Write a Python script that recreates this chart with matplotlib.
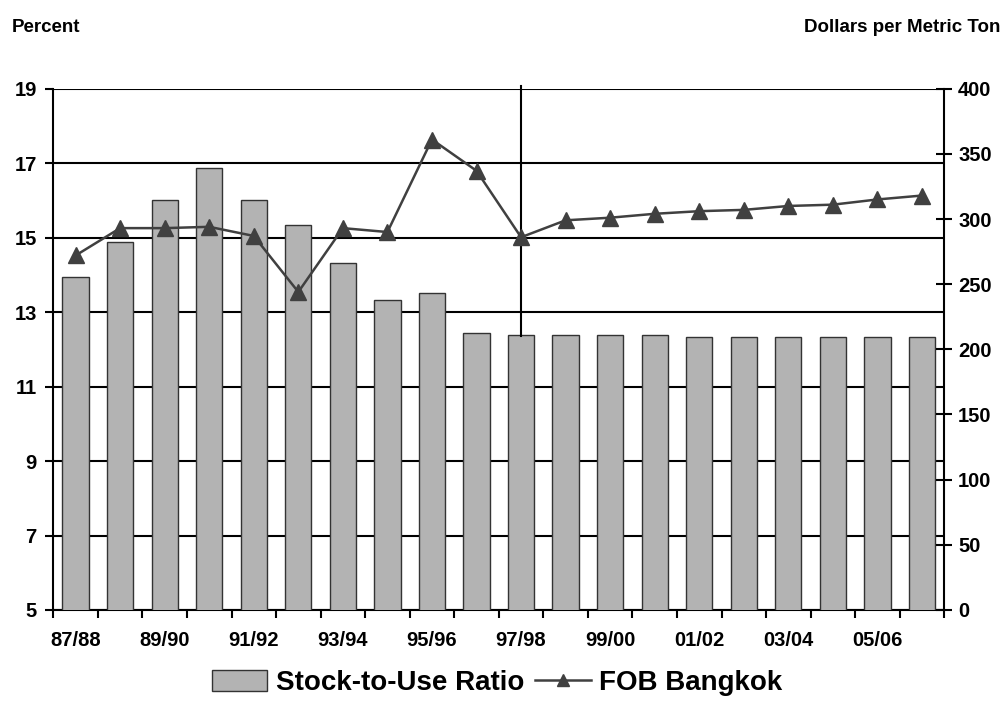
import matplotlib
matplotlib.use("Agg")
import matplotlib.pyplot as plt
import numpy as np
from matplotlib.lines import Line2D
from matplotlib.patches import Patch

plt.rcParams['font.family'] = ['Liberation Sans', 'DejaVu Sans']
plt.rcParams['font.weight'] = 'bold'

categories = ["87/88", "88/89", "89/90", "90/91", "91/92", "92/93", "93/94", "94/95",
              "95/96", "96/97", "97/98", "98/99", "99/00", "00/01", "01/02", "02/03",
              "03/04", "04/05", "05/06", "06/07"]
stock_to_use = [13.95, 14.88, 16.0, 16.88, 16.0, 15.33, 14.33, 13.33, 13.5, 12.44,
                12.39, 12.39, 12.39, 12.39, 12.34, 12.34, 12.34, 12.34, 12.34, 12.34]
fob_bangkok = [272, 293, 293, 294, 287, 244, 293, 290, 361, 337,
               286, 299, 301, 304, 306, 307, 310, 311, 315, 318]
divider_category = "97/98"

left_ticks = [5, 7, 9, 11, 13, 15, 17, 19]
right_ticks = [0, 50, 100, 150, 200, 250, 300, 350, 400]

fig = plt.figure(figsize=(10.04, 7.14), dpi=100)
ax = fig.add_axes([0.0531, 0.1457, 0.8874, 0.7301])
ax2 = ax.twinx()

x = np.arange(len(categories))
ax.bar(x, stock_to_use, width=0.59, bottom=0, color="#b3b3b3", edgecolor="#333333",
       linewidth=1.0, zorder=3)
ax.set_ylim(5, 19)
ax.set_xlim(-0.5, len(categories) - 0.5)
ax.set_yticks(left_ticks)
ax.set_yticklabels([str(t) for t in left_ticks])
ax.grid(axis='y', color='black', linewidth=1.5, zorder=0)
ax.set_axisbelow(True)

# x ticks: labels every other category, tick marks at category boundaries
ax.set_xticks(x[::2])
ax.set_xticklabels(categories[::2])
ax.set_xticks(np.arange(-0.5, len(categories), 1.0), minor=True)
ax.tick_params(axis='x', which='major', length=0, pad=15, labelsize=14.5)
ax.tick_params(axis='x', which='minor', length=6, width=1.5, direction='out')
ax.tick_params(axis='y', which='major', length=6, width=1.5, direction='out', labelsize=14.5, pad=6)

for s in ['top', 'right']:
    ax.spines[s].set_visible(False)
for s in ['left', 'bottom']:
    ax.spines[s].set_linewidth(1.5)

ax2.plot(x, fob_bangkok, color="#404040", linewidth=1.8, marker='^', markersize=11,
         markerfacecolor="#404040", markeredgecolor="#404040", zorder=5)
ax2.set_ylim(0, 400)
ax2.set_yticks(right_ticks)
ax2.set_yticklabels([str(t) for t in right_ticks])
ax2.tick_params(axis='y', length=12, width=1.5, direction='inout', labelsize=14.5, pad=4)
for s in ['top', 'left', 'bottom']:
    ax2.spines[s].set_visible(False)
ax2.spines['right'].set_linewidth(1.5)

# divider line at 97/98
di = categories.index(divider_category)
ax.plot([di, di], [stock_to_use[di] - 0.03, 19.06], color='black', linewidth=1.5,
        zorder=4, clip_on=False)

fig.text(0.012, 0.962, "Percent", fontsize=13.5, fontweight='bold', ha='left', va='center')
fig.text(0.996, 0.962, "Dollars per Metric Ton", fontsize=13.5, fontweight='bold',
         ha='right', va='center')

handles = [Patch(facecolor="#b3b3b3", edgecolor="#333333", linewidth=1.0),
           Line2D([0], [0], color="#404040", linewidth=1.8, marker='^', markersize=9)]
fig.legend(handles, ["Stock-to-Use Ratio", "FOB Bangkok"], loc='center',
           bbox_to_anchor=(0.495, 0.043), ncol=2, frameon=False,
           prop={'size': 20, 'weight': 'bold'}, handlelength=2.0, handleheight=0.8,
           columnspacing=0.4, handletextpad=0.3)

fig.savefig("out.png", dpi=100)
